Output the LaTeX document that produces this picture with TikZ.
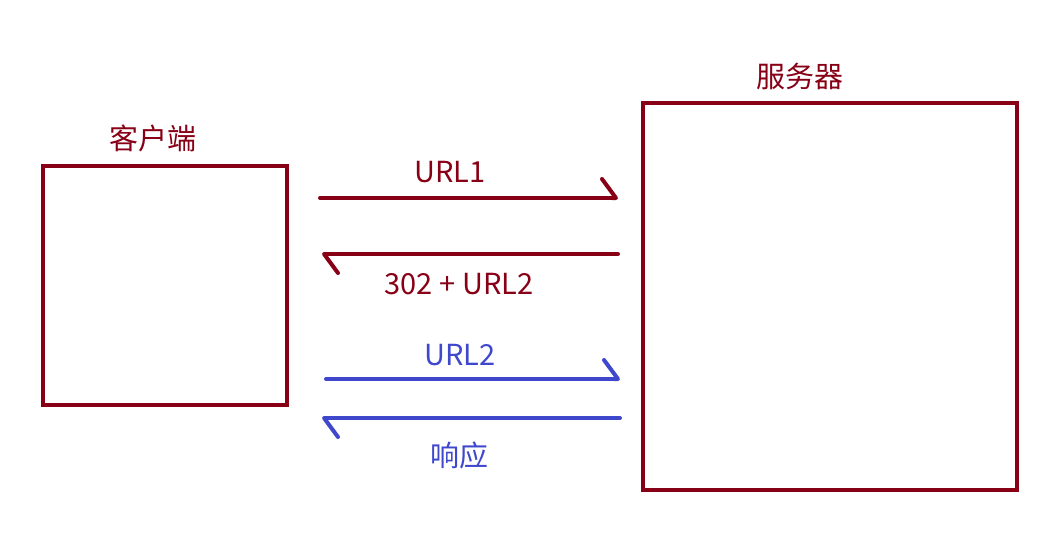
\documentclass[tikz,border=0pt]{standalone}
\usepackage{fontspec}
\setmainfont{Noto Sans CJK SC}
\usetikzlibrary{arrows.meta, positioning, calc}
\definecolor{paintred}{HTML}{880015}
\definecolor{paintblue}{HTML}{3F48CC}
\tikzset{
  box/.style={draw=paintred, line width=4pt, minimum width=244pt, minimum height=239pt},
  lbl/.style={font=\fontsize{29}{33}\selectfont, inner sep=0pt},
  msg/.style={line width=4pt, line cap=round, -{Straight Barb[harpoon, round, length=14pt, width=38pt]}}
}
\begin{document}
\begin{tikzpicture}[x=1pt, y=-1pt]
        \useasboundingbox (0,0) rectangle (1055,557);
        % Client and server
        \node[box] (client) at (165,285.5) {};
        \node[box, minimum width=374pt, minimum height=387pt] (server) at (830,296.5) {};
        \node[lbl, text=paintred] (clientname) at (153,138) {客户端};
        \node[lbl, text=paintred] (servername) at (800,76) {服务器};
        % Redirect
        \coordinate (y1) at (0,198); \coordinate (y2) at (0,254);
        \draw[msg, paintred, shorten <=31pt, shorten >=23pt] (client.east |- y1) -- (server.west |- y1);
        \node[lbl, text=paintred] (url1) at (450,172) {URL1};
        \draw[msg, paintred, shorten <=23pt, shorten >=33pt] (server.west |- y2) -- (client.east |- y2);
        \node[lbl, text=paintred] (redir) at (459,284) {302 + URL2};
        % Second request
        \coordinate (y3) at (0,379); \coordinate (y4) at (0,418);
        \draw[msg, paintblue, shorten <=37pt, shorten >=21pt] (client.east |- y3) -- (server.west |- y3);
        \node[lbl, text=paintblue] (url2) at (460,355) {URL2};
        \draw[msg, paintblue, shorten <=21pt, shorten >=33pt] (server.west |- y4) -- (client.east |- y4);
        \node[lbl, text=paintblue] (resp) at (459,455) {响应};
\end{tikzpicture}
\end{document}
